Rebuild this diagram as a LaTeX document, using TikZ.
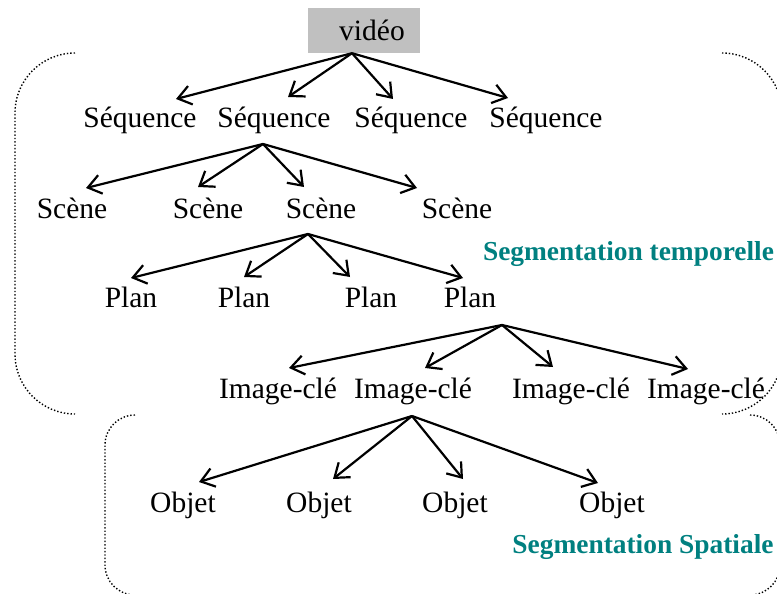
\documentclass[tikz,border=0pt]{standalone}
\usepackage{fontspec}
\setmainfont{Liberation Serif}
\usetikzlibrary{arrows.meta}
\definecolor{segteal}{RGB}{0,128,128}
\definecolor{boxgray}{RGB}{192,192,192}
\begin{document}
\begin{tikzpicture}[x=1pt,y=-1pt,
  lbl/.style={font=\fontsize{29.5}{35}\selectfont, inner sep=0pt, anchor=base},
  seg/.style={font=\fontsize{27.4}{33}\selectfont\bfseries, text=segteal, inner sep=0pt, anchor=base},
  arr/.style={-{Straight Barb[length=13pt,width=19pt,line width=2.2pt]}, line width=2.2pt},
  brk/.style={dotted, line width=1.4pt}]
\useasboundingbox (0,0) rectangle (777,594);
\begin{scope}
\clip (0,0) rectangle (777,594);
% upper bracket
\draw[brk] (75,53) arc[start angle=90,end angle=180,radius=60pt] -- (15,354) arc[start angle=180,end angle=270,radius=60pt];
\draw[brk] (722,53) arc[start angle=90,end angle=0,radius=60pt] -- (782,354) arc[start angle=0,end angle=-90,radius=60pt];
% lower bracket
\draw[brk] (135,415) arc[start angle=90,end angle=180,radius=30pt] -- (105,565) arc[start angle=180,end angle=270,radius=30pt];
\draw[brk] (750,415) arc[start angle=90,end angle=0,radius=30pt] -- (780,565) arc[start angle=0,end angle=-90,radius=30pt];
\end{scope}
% nodes
\node[lbl, anchor=center, fill=boxgray, minimum width=112pt, minimum height=45pt] (v) at (364,30.5) {\hspace*{16pt}vidéo};
\node[lbl] (s1) at (140,128) {Séquence};
\node[lbl] (s2) at (274,128) {Séquence};
\node[lbl] (s3) at (411,128) {Séquence};
\node[lbl] (s4) at (546,128) {Séquence};
\node[lbl] (c1) at (72,218) {Scène};
\node[lbl] (c2) at (208,218) {Scène};
\node[lbl] (c3) at (321,218) {Scène};
\node[lbl] (c4) at (457,218) {Scène};
\node[lbl] (p1) at (131,307) {Plan};
\node[lbl] (p2) at (244,307) {Plan};
\node[lbl] (p3) at (371,307) {Plan};
\node[lbl] (p4) at (470,307) {Plan};
\node[lbl] (i1) at (278,398) {Image-clé};
\node[lbl] (i2) at (413,398) {Image-clé};
\node[lbl] (i3) at (571,398) {Image-clé};
\node[lbl] (i4) at (706,398) {Image-clé};
\node[lbl] (o1) at (183,512) {Objet};
\node[lbl] (o2) at (319,512) {Objet};
\node[lbl] (o3) at (455,512) {Objet};
\node[lbl] (o4) at (612,512) {Objet};
\node[seg] (st) at (628.5,260) {Segmentation temporelle};
\node[seg] (ss) at (643,553) {Segmentation Spatiale};
% arrows
\coordinate (vo) at ([xshift=-12pt]v.south);
\draw[arr] (vo) -- ([xshift=36pt,yshift=29pt]s1.base);
\draw[arr] (vo) -- ([xshift=14pt,yshift=31pt]s2.base);
\draw[arr] (vo) -- ([xshift=-18pt,yshift=29pt]s3.base);
\draw[arr] (vo) -- ([xshift=-38pt,yshift=30pt]s4.base);
\coordinate (so) at ([xshift=-11pt,yshift=-16pt]s2.base);
\draw[arr] (so) -- ([xshift=14pt,yshift=30pt]c1.base);
\draw[arr] (so) -- ([xshift=-10pt,yshift=31pt]c2.base);
\draw[arr] (so) -- ([xshift=-17pt,yshift=31pt]c3.base);
\draw[arr] (so) -- ([xshift=-40pt,yshift=30pt]c4.base);
\coordinate (co) at ([xshift=-13pt,yshift=-16pt]c3.base);
\draw[arr] (co) -- ([xshift=0pt,yshift=29pt]p1.base);
\draw[arr] (co) -- ([xshift=0pt,yshift=30pt]p2.base);
\draw[arr] (co) -- ([xshift=-21pt,yshift=30pt]p3.base);
\draw[arr] (co) -- ([xshift=-7pt,yshift=29pt]p4.base);
\coordinate (po) at ([xshift=32pt,yshift=-18pt]p4.base);
\draw[arr] (po) -- ([xshift=11pt,yshift=30pt]i1.base);
\draw[arr] (po) -- ([xshift=12pt,yshift=30pt]i2.base);
\draw[arr] (po) -- ([xshift=-18pt,yshift=31pt]i3.base);
\draw[arr] (po) -- ([xshift=-18pt,yshift=29pt]i4.base);
\coordinate (io) at ([xshift=-1pt,yshift=-18pt]i2.base);
\draw[arr] (io) -- ([xshift=16pt,yshift=30pt]o1.base);
\draw[arr] (io) -- ([xshift=14pt,yshift=33pt]o2.base);
\draw[arr] (io) -- ([xshift=8pt,yshift=33pt]o3.base);
\draw[arr] (io) -- ([xshift=-14pt,yshift=29pt]o4.base);
\end{tikzpicture}
\end{document}
